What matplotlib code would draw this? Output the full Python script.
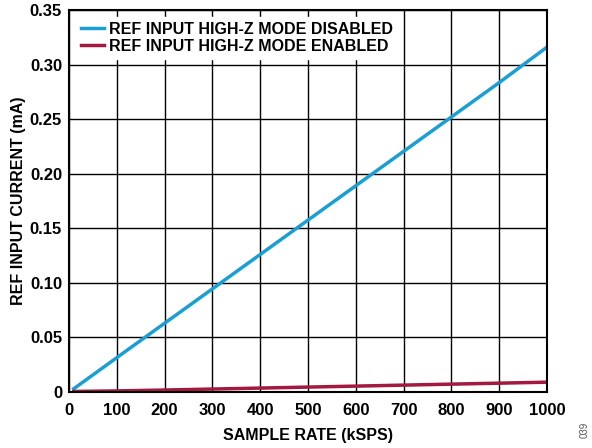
import matplotlib
matplotlib.use("Agg")
import matplotlib.pyplot as plt

plt.rcParams["font.family"] = ["Liberation Sans", "DejaVu Sans"]
plt.rcParams["font.weight"] = "bold"

sample_rate = [10, 100, 200, 300, 400, 500, 600, 700, 800, 900, 1000]
current_disabled = [0.003, 0.0315, 0.063, 0.0945, 0.126, 0.1575, 0.189, 0.2205, 0.252, 0.2835, 0.316]
current_enabled = [0.0005, 0.001, 0.0018, 0.0027, 0.0036, 0.0045, 0.0054, 0.0063, 0.0072, 0.0081, 0.009]

x_ticks = [0, 100, 200, 300, 400, 500, 600, 700, 800, 900, 1000]
y_ticks = [0, 0.05, 0.10, 0.15, 0.20, 0.25, 0.30, 0.35]
y_labels = ["0", "0.05", "0.10", "0.15", "0.20", "0.25", "0.30", "0.35"]

fig = plt.figure(figsize=(5.92, 4.48), dpi=100)
ax = fig.add_axes([69 / 592, 1 - 392 / 448, 478 / 592, 382 / 448])

ax.plot(sample_rate, current_disabled, color="#1a9fd4", lw=2.5,
        label="REF INPUT HIGH-Z MODE DISABLED")
ax.plot(sample_rate, current_enabled, color="#a3193f", lw=2.5,
        label="REF INPUT HIGH-Z MODE ENABLED")

ax.set_xlim(0, 1000)
ax.set_ylim(0, 0.35)
ax.set_xticks(x_ticks)
ax.set_yticks(y_ticks)
ax.set_yticklabels(y_labels)
ax.grid(True, color="black", lw=1)
ax.set_axisbelow(True)
ax.tick_params(direction="in", length=0, labelsize=12)
ax.tick_params(axis="x", pad=8)
ax.tick_params(axis="y", pad=5)
for spine in ax.spines.values():
    spine.set_linewidth(1.5)

ax.set_xlabel("SAMPLE RATE (kSPS)", fontsize=11.5, fontweight="bold", labelpad=7)
ax.set_ylabel("REF INPUT CURRENT (mA)", fontsize=11.5, fontweight="bold", labelpad=3)

leg = ax.legend(loc="upper left", bbox_to_anchor=(0.0, 1.0), frameon=True,
                fontsize=11.5, handlelength=1.45, borderpad=0.3, labelspacing=0.12,
                handletextpad=0.3, borderaxespad=0.45)
leg.get_frame().set_facecolor("white")
leg.get_frame().set_edgecolor("white")
leg.get_frame().set_alpha(1.0)
leg.get_frame().set_boxstyle("square", pad=0.0)

fig.text(585 / 592, 1 - 430 / 448, "039", rotation=90, fontsize=7,
         fontweight="normal", color="#555555", ha="center", va="center")

fig.savefig("out.png", dpi=100)
